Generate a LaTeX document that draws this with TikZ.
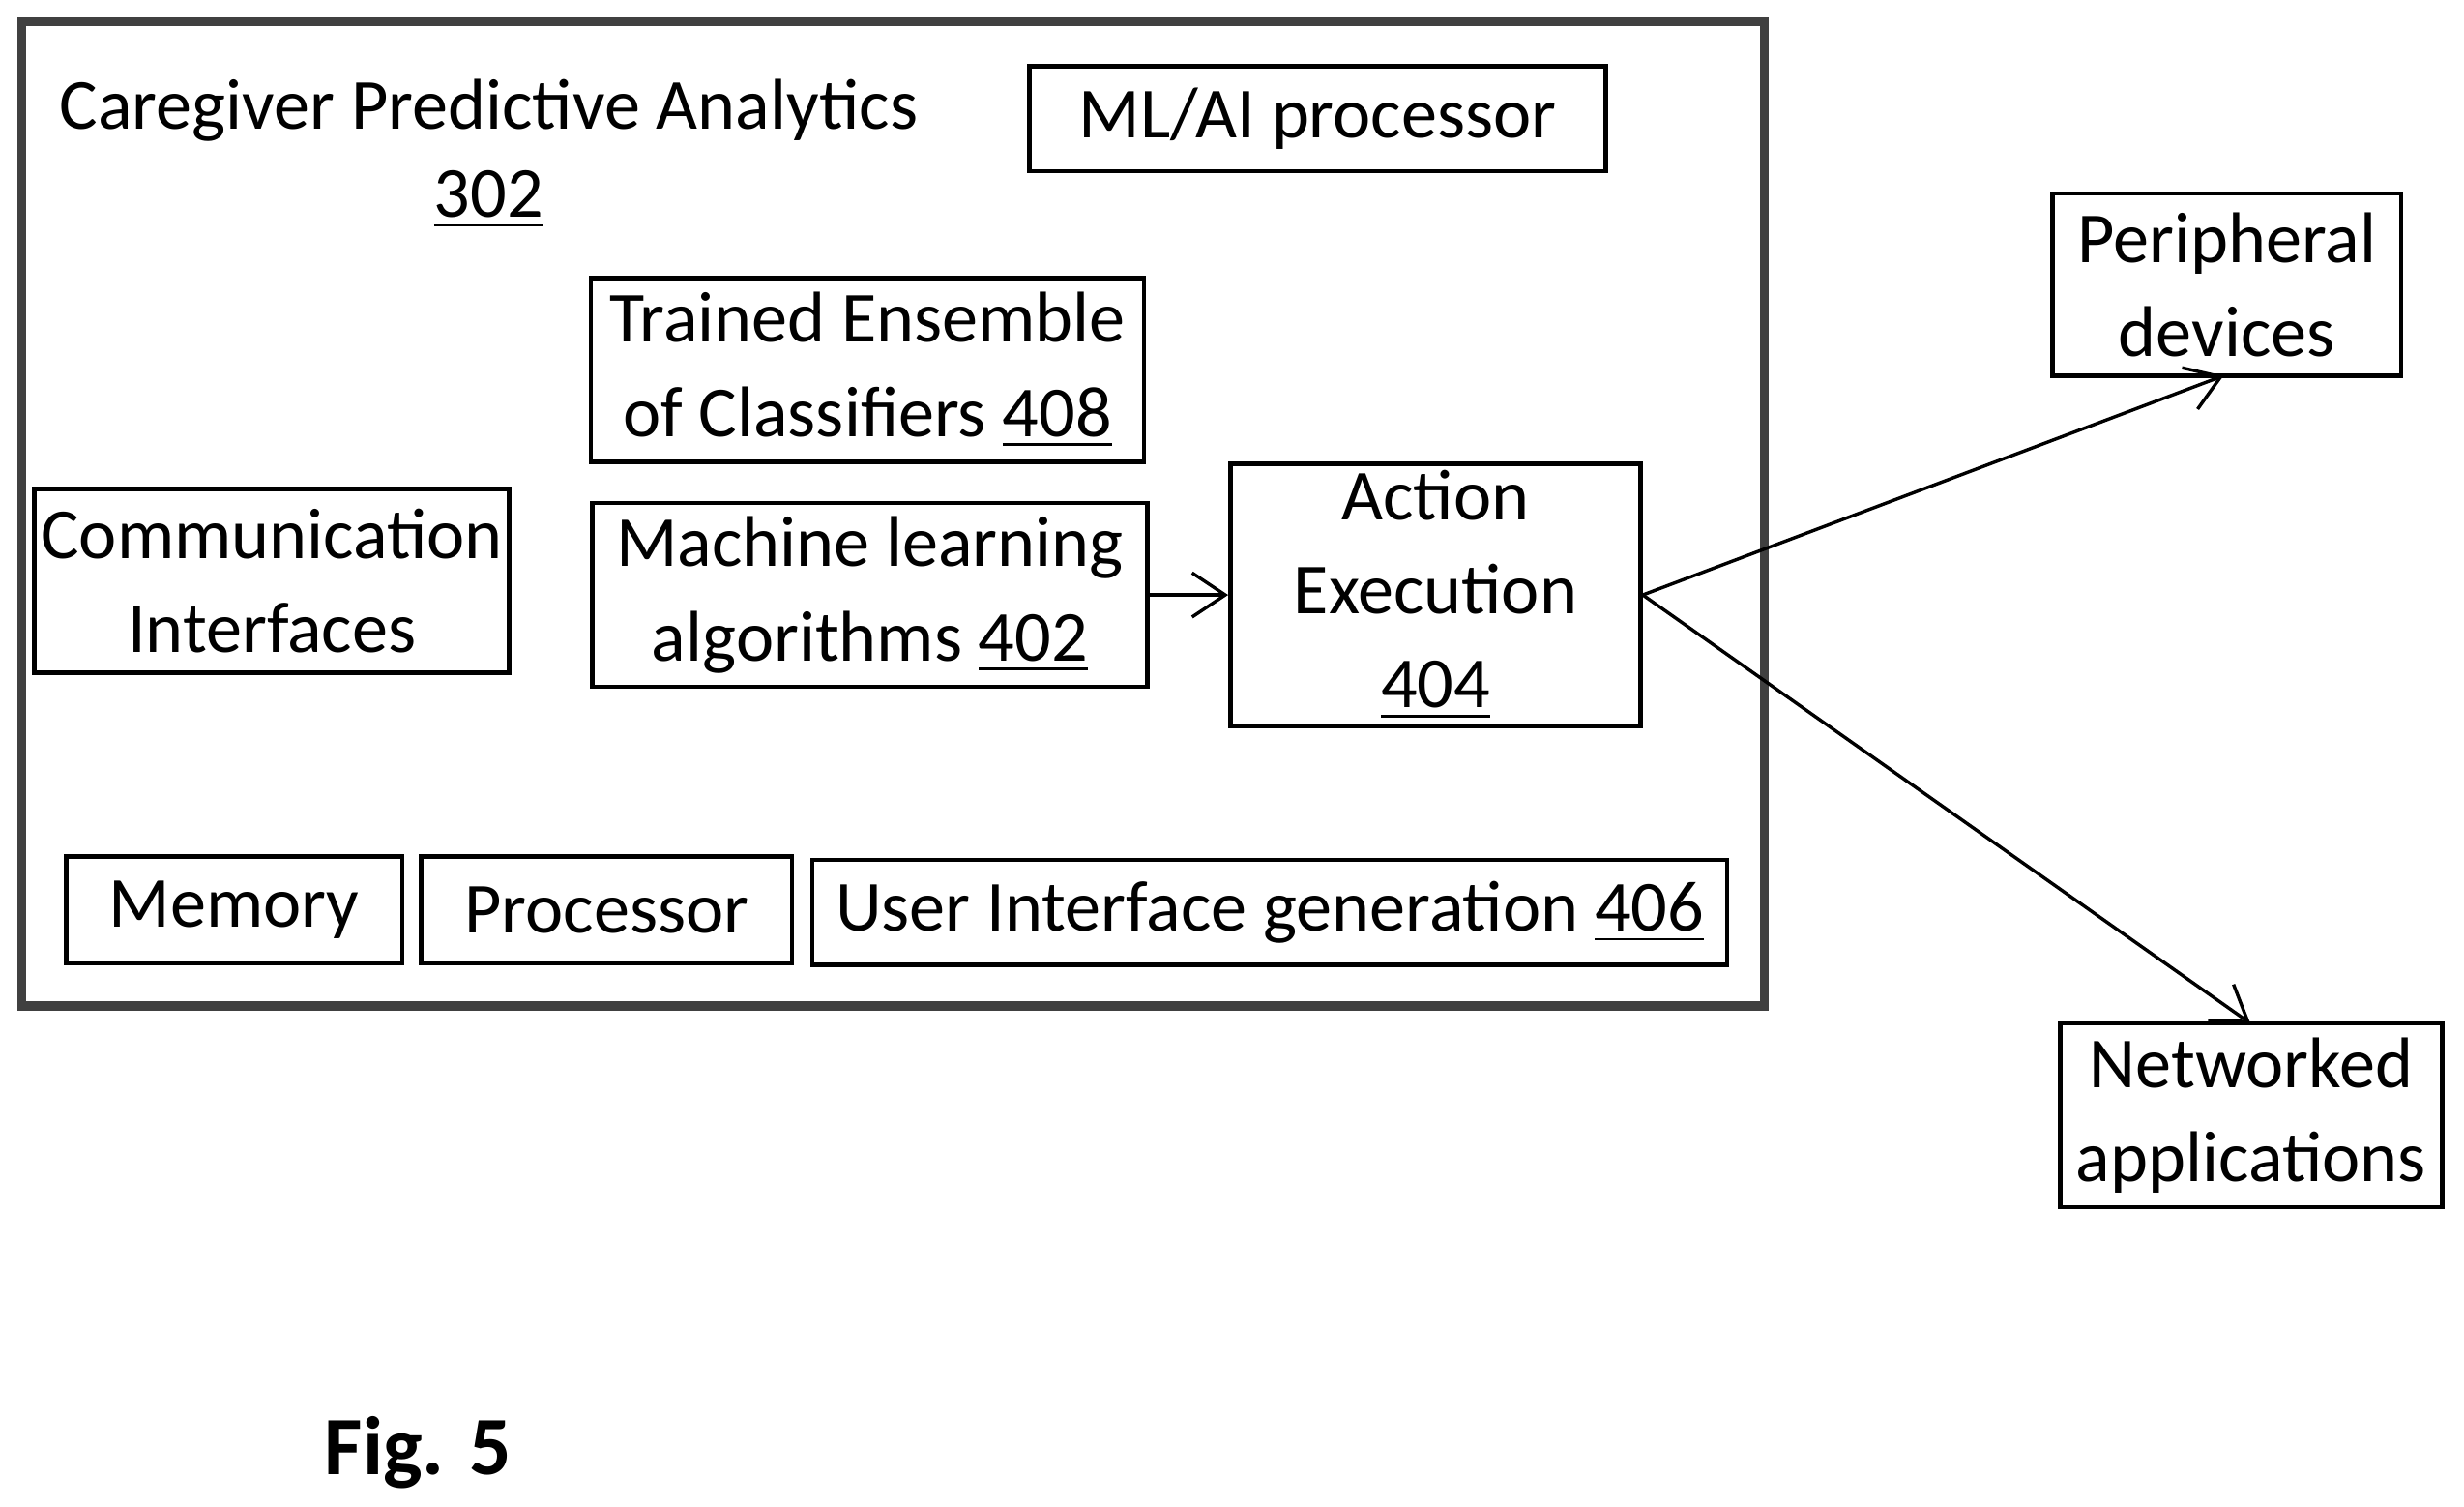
\documentclass[tikz,border=0pt]{standalone}
\usepackage{fontspec}
\setmainfont{Carlito}
\usetikzlibrary{arrows.meta}

\tikzset{
  box/.style={draw, thick, align=center, inner sep=0pt, font=\fontsize{13}{17}\selectfont},
  link/.style={-{Straight Barb[length=6pt,width=8pt]}, semithick}
}

\begin{document}
\begin{tikzpicture}
        \useasboundingbox (0,0) rectangle (15.68,-9.587);

        % Analytics frame
        \draw[line width=1.6pt, black!75] (0.14,-0.14) rectangle (11.23,-6.40);
        \node[font=\fontsize{13}{17}\selectfont, align=center] (title) at (3.11,-0.98) {Caregiver Predictive Analytics\\[-1pt]\underline{302}};

        % Inner blocks
        \node[box, minimum width=3.67cm, minimum height=0.67cm] (mlai) at (8.385,-0.755) {ML/AI processor};
        \node[box, minimum width=3.52cm, minimum height=1.17cm] (ensemble) at (5.52,-2.355) {Trained Ensemble\\of Classifiers \underline{408}};
        \node[box, minimum width=3.02cm, minimum height=1.17cm] (comm) at (1.73,-3.695) {Communication\\Interfaces};
        \node[box, minimum width=3.53cm, minimum height=1.17cm] (mlalg) at (5.535,-3.785) {Machine learning\\algorithms \underline{402}};
        \node[box, minimum width=2.61cm, minimum height=1.67cm] (action) at (9.135,-3.785) {Action\\Execution\\\underline{404}};
        \node[box, minimum width=2.14cm, minimum height=0.68cm] (memory) at (1.49,-5.79) {Memory};
        \node[box, minimum width=2.36cm, minimum height=0.68cm] (cpu) at (3.86,-5.79) {Processor};
        \node[box, minimum width=5.82cm, minimum height=0.67cm] (ui) at (8.08,-5.805) {User Interface generation \underline{406}};

        % External blocks
        \node[box, minimum width=2.22cm, minimum height=1.16cm] (periph) at (14.17,-1.81) {Peripheral\\devices};
        \node[box, minimum width=2.43cm, minimum height=1.17cm] (netapp) at (14.325,-7.095) {Networked\\applications};

        \coordinate (periph-in) at (14.15,-2.39);
        \coordinate (netapp-in) at (14.32,-6.51);

        % Connectors
        \draw[link] (mlalg) -- (action);
        \draw[link] (action.east) -- (periph-in);
        \draw[link] (action.east) -- (netapp-in);

        \node[font=\bfseries\fontsize{15}{18}\selectfont] (fig) at (2.66,-9.24) {Fig. 5};
\end{tikzpicture}
\end{document}
